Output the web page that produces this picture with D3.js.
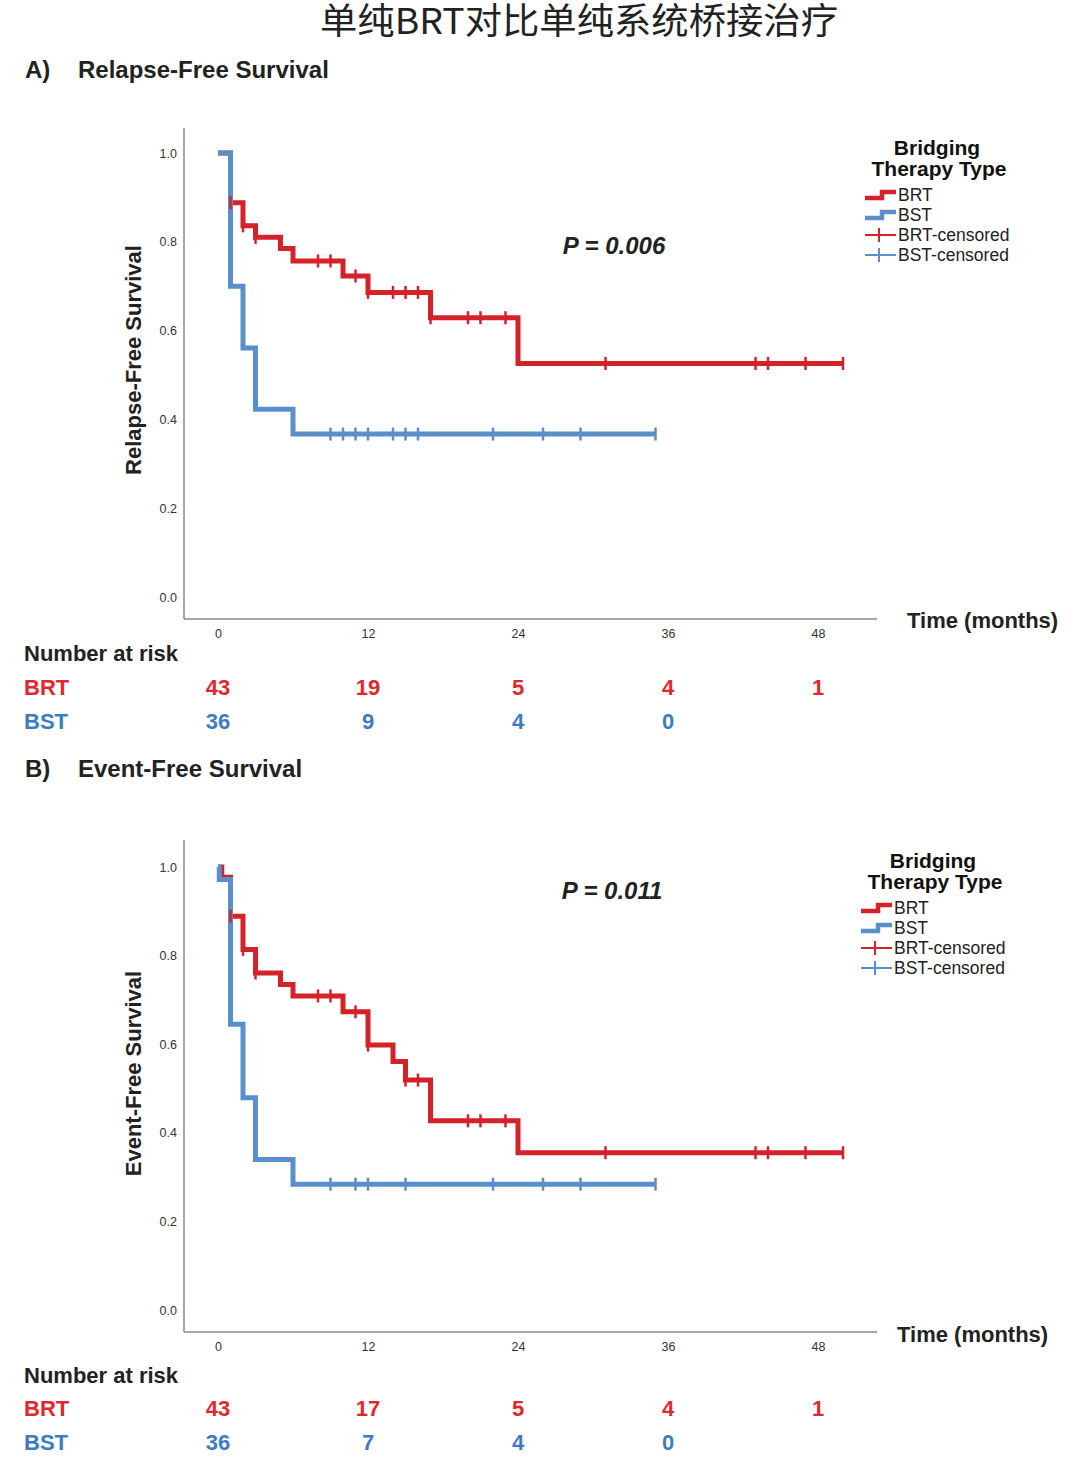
<!DOCTYPE html>
<html><head><meta charset="utf-8">
<script src="https://cdn.jsdelivr.net/npm/d3@7"></script>
<style>body{margin:0;background:#fff} svg{display:block}</style>
</head><body>
<svg id="c" width="1080" height="1457"></svg>
<script>
const title = "单纯BRT对比单纯系统桥接治疗";
const xTicks = [0, 12, 24, 36, 48];
const yTicks = [0, 0.2, 0.4, 0.6, 0.8, 1.0];
const groups = ["BRT", "BST"];
const legendTitle = ["Bridging", "Therapy Type"];
const legendLabels = ["BRT", "BST", "BRT-censored", "BST-censored"];

// Panel A: Relapse-Free Survival
const rfsBrtTimes  = [0, 1, 2, 3, 5, 6, 10, 12, 17, 24, 50];
const rfsBrtSurv   = [1.0, 0.888, 0.836, 0.810, 0.785, 0.757, 0.723, 0.686, 0.629, 0.526, 0.526];
const rfsBrtCensor = [1, 2, 3, 8, 9, 11, 12, 14, 15, 16, 17, 20, 21, 23, 31, 43, 44, 47, 50];
const rfsBstTimes  = [0, 1, 2, 3, 6, 35];
const rfsBstSurv   = [1.0, 0.700, 0.561, 0.423, 0.367, 0.367];
const rfsBstCensor = [9, 10, 11, 12, 14, 15, 16, 22, 26, 29, 35];
const rfsRiskBrt = [43, 19, 5, 4, 1];
const rfsRiskBst = [36, 9, 4, 0];

// Panel B: Event-Free Survival
const efsBrtTimes  = [0, 0.3, 1, 2, 3, 5, 6, 10, 12, 14, 15, 17, 24, 50];
const efsBrtSurv   = [1.0, 0.977, 0.889, 0.814, 0.761, 0.735, 0.709, 0.673, 0.598, 0.561, 0.519, 0.427, 0.355, 0.355];
const efsBrtCensor = [1, 2, 3, 8, 9, 11, 12, 15, 16, 20, 21, 23, 31, 43, 44, 47, 50];
const efsBstTimes  = [0, 0.1, 1, 2, 3, 6, 35];
const efsBstSurv   = [1.0, 0.972, 0.645, 0.479, 0.340, 0.284, 0.284];
const efsBstCensor = [9, 11, 12, 15, 22, 26, 29, 35];
const efsRiskBrt = [43, 17, 5, 4, 1];
const efsRiskBst = [36, 7, 4, 0];

const pValues = ["P = 0.006", "P = 0.011"];
const panelLetters = ["A)", "B)"];
const panelNames = ["Relapse-Free Survival", "Event-Free Survival"];

const RED = "#d3222a", BLUE = "#5b8fcb";
const RED_T = "#e0282d", BLUE_T = "#3e7cc0";
const FONT = "'Liberation Sans', Arial, Helvetica, sans-serif";

const svg = d3.select("#c");

svg.append("text").attr("x", 579).attr("y", 34).attr("text-anchor", "middle")
  .attr("font-family", "'Noto Sans CJK SC', sans-serif").attr("font-size", 36)
  .attr("textLength", 518).attr("lengthAdjust", "spacingAndGlyphs")
  .attr("fill", "#222").text(title);

const panels = [
  { data: { brtT: rfsBrtTimes, brtS: rfsBrtSurv, brtC: rfsBrtCensor, bstT: rfsBstTimes, bstS: rfsBstSurv, bstC: rfsBstCensor, riskBrt: rfsRiskBrt, riskBst: rfsRiskBst },
    headY: 69, y0: 597, y1: 153, axisTop: 128, axisY: 619, timeX: 907, timeY: 620,
    riskHeadY: 653, riskY: [687, 721], legX: 865, legTitleY: [147, 168], legItemY: [195, 215, 235, 255],
    pX: 614, pY: 245 },
  { data: { brtT: efsBrtTimes, brtS: efsBrtSurv, brtC: efsBrtCensor, bstT: efsBstTimes, bstS: efsBstSurv, bstC: efsBstCensor, riskBrt: efsRiskBrt, riskBst: efsRiskBst },
    headY: 768, y0: 1310, y1: 867, axisTop: 840, axisY: 1332, timeX: 897, timeY: 1334,
    riskHeadY: 1375, riskY: [1408, 1442], legX: 861, legTitleY: [860, 881], legItemY: [908, 928, 948, 968],
    pX: 612, pY: 890 }
];

const x = d3.scaleLinear().domain([0, 48]).range([218, 818]);

panels.forEach((P, i) => {
  const y = d3.scaleLinear().domain([0, 1]).range([P.y0, P.y1]);
  const g = svg.append("g");

  // heading
  g.append("text").attr("x", 25).attr("y", P.headY).attr("dominant-baseline", "central")
    .attr("font-family", FONT).attr("font-weight", "bold").attr("font-size", 24).attr("fill", "#222")
    .text(panelLetters[i]);
  g.append("text").attr("x", 78).attr("y", P.headY).attr("dominant-baseline", "central")
    .attr("font-family", FONT).attr("font-weight", "bold").attr("font-size", 24).attr("fill", "#222")
    .text(panelNames[i]);

  // axis lines
  g.append("line").attr("x1", 184).attr("x2", 184).attr("y1", P.axisTop).attr("y2", P.axisY)
    .attr("stroke", "#8a8a8a").attr("stroke-width", 1.5);
  g.append("line").attr("x1", 184).attr("x2", 877).attr("y1", P.axisY).attr("y2", P.axisY)
    .attr("stroke", "#8a8a8a").attr("stroke-width", 1.5);

  // y axis
  const ya = g.append("g").attr("transform", "translate(184,0)")
    .call(d3.axisLeft(y).tickValues(yTicks).tickSize(0).tickPadding(7).tickFormat(d3.format(".1f")));
  ya.select(".domain").remove();
  ya.selectAll("text").attr("font-family", FONT).attr("font-size", 12.5).attr("fill", "#333");

  // x axis
  const xa = g.append("g").attr("transform", `translate(0,${P.axisY})`)
    .call(d3.axisBottom(x).tickValues(xTicks).tickSize(0).tickPadding(10));
  xa.select(".domain").remove();
  xa.selectAll("text").attr("font-family", FONT).attr("font-size", 12.5).attr("fill", "#333");

  // y label
  g.append("text").attr("transform", `translate(133,${(P.y0 + P.y1) / 2 - 15}) rotate(-90)`)
    .attr("text-anchor", "middle").attr("dominant-baseline", "central")
    .attr("font-family", FONT).attr("font-weight", "bold").attr("font-size", 22).attr("fill", "#222")
    .text(panelNames[i]);

  // time label
  g.append("text").attr("x", P.timeX).attr("y", P.timeY).attr("dominant-baseline", "central")
    .attr("font-family", FONT).attr("font-weight", "bold").attr("font-size", 22).attr("fill", "#222")
    .text("Time (months)");

  // curves
  const line = d3.line().x(d => x(d[0])).y(d => y(d[1])).curve(d3.curveStepAfter);
  const D = P.data;
  const series = [
    { t: D.brtT, s: D.brtS, c: D.brtC, color: RED },
    { t: D.bstT, s: D.bstS, c: D.bstC, color: BLUE }
  ];
  series.forEach(S => {
    g.append("path").datum(S.t.map((t, k) => [t, S.s[k]])).attr("d", line)
      .attr("fill", "none").attr("stroke", S.color).attr("stroke-width", 5)
      .attr("stroke-linejoin", "miter").attr("stroke-linecap", "butt");
  });
  series.forEach(S => {
    const survAt = t => { let v = S.s[0]; S.t.forEach((tt, k) => { if (tt <= t) v = S.s[k]; }); return v; };
    g.selectAll(null).data(S.c).enter().append("line")
      .attr("x1", d => x(d)).attr("x2", d => x(d))
      .attr("y1", d => y(survAt(d)) - 6.5).attr("y2", d => y(survAt(d)) + 6.5)
      .attr("stroke", S.color).attr("stroke-width", 2.5);
  });

  // p value
  g.append("text").attr("x", P.pX).attr("y", P.pY).attr("text-anchor", "middle").attr("dominant-baseline", "central")
    .attr("font-family", FONT).attr("font-weight", "bold").attr("font-style", "italic").attr("font-size", 24)
    .attr("fill", "#222").text(pValues[i]);

  // legend
  const lx = P.legX;
  legendTitle.forEach((tx, k) => {
    g.append("text").attr("x", lx + 72 + (k === 0 ? 0 : 2)).attr("y", P.legTitleY[k]).attr("text-anchor", "middle")
      .attr("dominant-baseline", "central").attr("font-family", FONT).attr("font-weight", "bold")
      .attr("font-size", 21).attr("fill", "#111").text(tx);
  });
  const legColors = [RED, BLUE, RED, BLUE];
  legendLabels.forEach((lab, k) => {
    const yy = P.legItemY[k];
    if (k < 2) {
      g.append("path").attr("d", `M${lx},${yy + 3}H${lx + 17}V${yy - 3}H${lx + 31}`)
        .attr("fill", "none").attr("stroke", legColors[k]).attr("stroke-width", 4.5);
    } else {
      g.append("line").attr("x1", lx).attr("x2", lx + 31).attr("y1", yy).attr("y2", yy)
        .attr("stroke", legColors[k]).attr("stroke-width", 2);
      g.append("line").attr("x1", lx + 14).attr("x2", lx + 14).attr("y1", yy - 7).attr("y2", yy + 7)
        .attr("stroke", legColors[k]).attr("stroke-width", 2);
    }
    g.append("text").attr("x", lx + 33).attr("y", yy).attr("dominant-baseline", "central")
      .attr("font-family", FONT).attr("font-size", 17.5).attr("fill", "#222").text(lab);
  });

  // number at risk
  g.append("text").attr("x", 24).attr("y", P.riskHeadY).attr("dominant-baseline", "central")
    .attr("font-family", FONT).attr("font-weight", "bold").attr("font-size", 22).attr("fill", "#222")
    .text("Number at risk");
  const risks = [D.riskBrt, D.riskBst];
  const rc = [RED_T, BLUE_T];
  groups.forEach((grp, k) => {
    g.append("text").attr("x", 24).attr("y", P.riskY[k]).attr("dominant-baseline", "central")
      .attr("font-family", FONT).attr("font-weight", "bold").attr("font-size", 22).attr("fill", rc[k]).text(grp);
    g.selectAll(null).data(risks[k]).enter().append("text")
      .attr("x", (d, j) => x(xTicks[j])).attr("y", P.riskY[k]).attr("text-anchor", "middle")
      .attr("dominant-baseline", "central").attr("font-family", FONT).attr("font-weight", "bold")
      .attr("font-size", 22).attr("fill", rc[k]).text(d => d);
  });
});
</script>
</body></html>
